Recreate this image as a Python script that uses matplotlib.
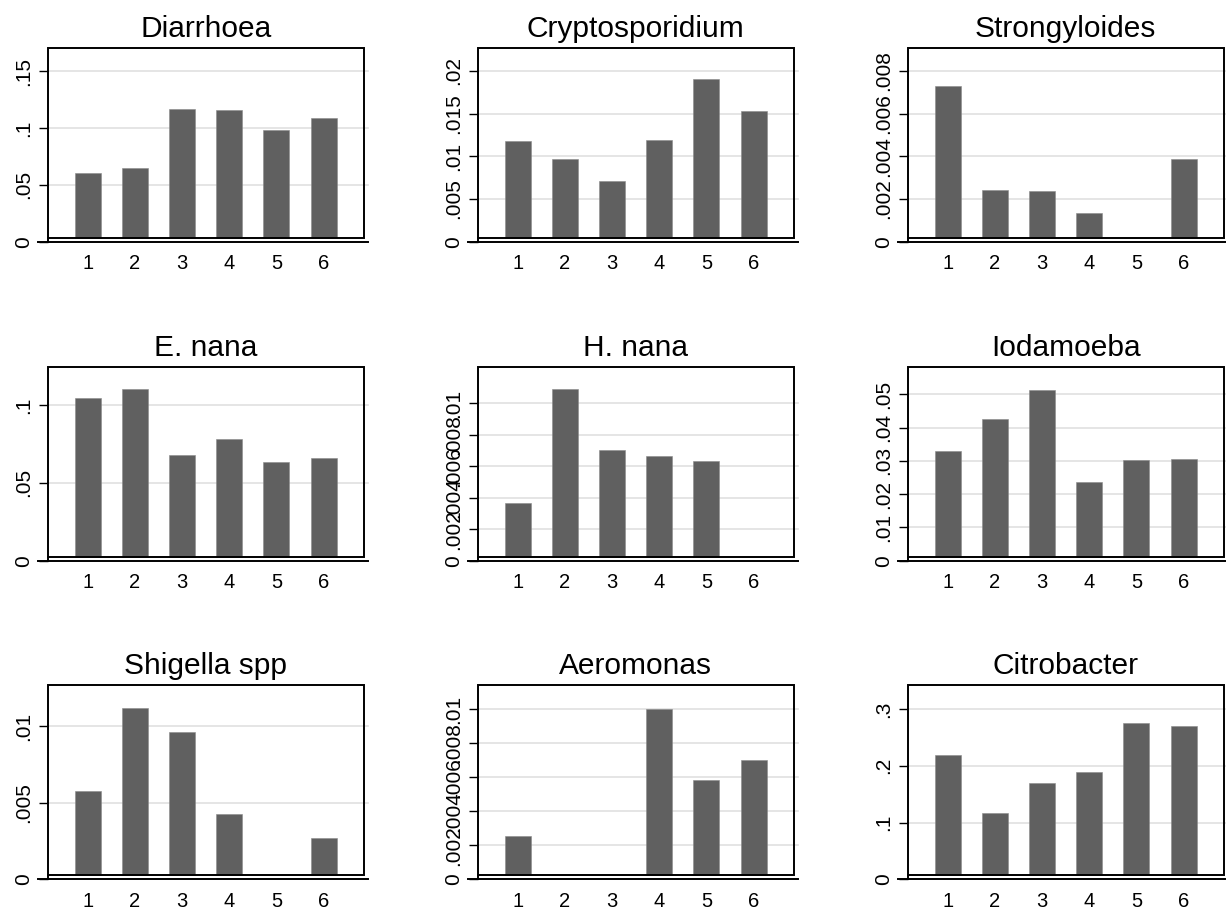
import numpy as np
import matplotlib
matplotlib.use("Agg")
from matplotlib import pyplot as plt
from matplotlib import transforms

plt.rcParams['font.family'] = ['Liberation Sans', 'DejaVu Sans']

# data
groups = [1, 2, 3, 4, 5, 6]
titles = ['Diarrhoea', 'Cryptosporidium', 'Strongyloides',
          'E. nana', 'H. nana', 'Iodamoeba',
          'Shigella spp', 'Aeromonas', 'Citrobacter']

diarrhoea = [0.0603, 0.0647, 0.1163, 0.1154, 0.0978, 0.1090]
crypto = [0.01181, 0.00967, 0.00706, 0.01193, 0.01906, 0.01528]
strongyloides = [0.00731, 0.00243, 0.00235, 0.00136, 0.0, 0.00385]
e_nana = [0.1047, 0.1101, 0.0677, 0.0779, 0.0634, 0.0662]
h_nana = [0.00368, 0.01087, 0.00700, 0.00666, 0.00632, 0.0]
iodamoeba = [0.0330, 0.0425, 0.0514, 0.0238, 0.0304, 0.0307]
shigella = [0.00576, 0.01115, 0.00963, 0.00426, 0.0, 0.00272]
aeromonas = [0.00256, 0.0, 0.0, 0.0100, 0.00583, 0.00700]
citrobacter = [0.219, 0.1163, 0.169, 0.1885, 0.2748, 0.2707]

series = [diarrhoea, crypto, strongyloides, e_nana, h_nana, iodamoeba,
          shigella, aeromonas, citrobacter]

yticks = [
    [0, 0.05, 0.1, 0.15],
    [0, 0.005, 0.01, 0.015, 0.02],
    [0, 0.002, 0.004, 0.006, 0.008],
    [0, 0.05, 0.1],
    [0, 0.002, 0.004, 0.006, 0.008, 0.01],
    [0, 0.01, 0.02, 0.03, 0.04, 0.05],
    [0, 0.005, 0.01],
    [0, 0.002, 0.004, 0.006, 0.008, 0.01],
    [0, 0.1, 0.2, 0.3],
]
ytops = [0.1705, 0.0227, 0.00908, 0.1246, 0.0123, 0.0583, 0.01265, 0.01139, 0.3417]


def stata_label(v):
    s = f"{v:g}"
    if s.startswith('0.'):
        s = s[1:]
    return s


W, H = 1226, 914
fig = plt.figure(figsize=(W / 100, H / 100), dpi=100)

col_left = [47.7, 477.7, 907.7]
row_axis = [241.7, 560.7, 879.3]   # pixel row of x axis line
box_w = 316
box_h = 194
gap = 4          # px between box bottom and axis line
ext = 4          # px gridlines/axis run past the box on the right
tick_px = 9.5

bar_col = '#606060'
grid_col = '#e0e0e0'

for i in range(9):
    r, c = divmod(i, 3)
    left = col_left[c] / W
    bottom = (H - row_axis[r]) / H
    ax = fig.add_axes([left, bottom, box_w / W, box_h / H])
    ymax = ytops[i]
    ax.set_xlim(0.15, 6.85)
    ax.set_ylim(0, ymax)
    base = ymax * gap / box_h

    vals = np.array(series[i])
    heights = np.clip(vals - base, 0, None)
    ax.bar(groups, heights, bottom=base, width=0.55, color=bar_col,
           edgecolor='#8a8a8a', linewidth=0.4, zorder=3)

    for s in ax.spines.values():
        s.set_visible(False)

    # grid lines (running slightly past the box)
    trans = transforms.blended_transform_factory(ax.transAxes, ax.transData)
    xr = 1 + ext / box_w
    for t in yticks[i][1:]:
        ax.plot([0, xr], [t, t], color=grid_col, lw=1.2, transform=trans,
                clip_on=False, zorder=1)

    # plot box
    yb = gap / box_h
    ax.plot([0, 0, 1, 1, 0], [yb, 1, 1, yb, yb], color='black', lw=1.4,
            transform=ax.transAxes, clip_on=False, zorder=4,
            solid_joinstyle='miter')
    # x axis line
    ax.plot([-tick_px / box_w, xr], [0, 0], color='black', lw=1.4,
            transform=ax.transAxes, clip_on=False, zorder=4)
    # y axis line
    ax.plot([0, 0], [0, yb], color='black', lw=1.4,
            transform=ax.transAxes, clip_on=False, zorder=4)

    ax.set_yticks(yticks[i])
    ax.set_yticklabels([stata_label(t) for t in yticks[i]], rotation=90,
                       va='center', fontsize=15)
    ax.tick_params(axis='y', length=tick_px * 0.72, width=1.0, pad=4)
    ax.set_xticks(groups)
    ax.set_xticklabels([str(g) for g in groups], fontsize=14.5)
    ax.tick_params(axis='x', length=0, pad=9)
    ax.set_title(titles[i], fontsize=21.5, pad=8)

fig.savefig('out.png', dpi=100)
